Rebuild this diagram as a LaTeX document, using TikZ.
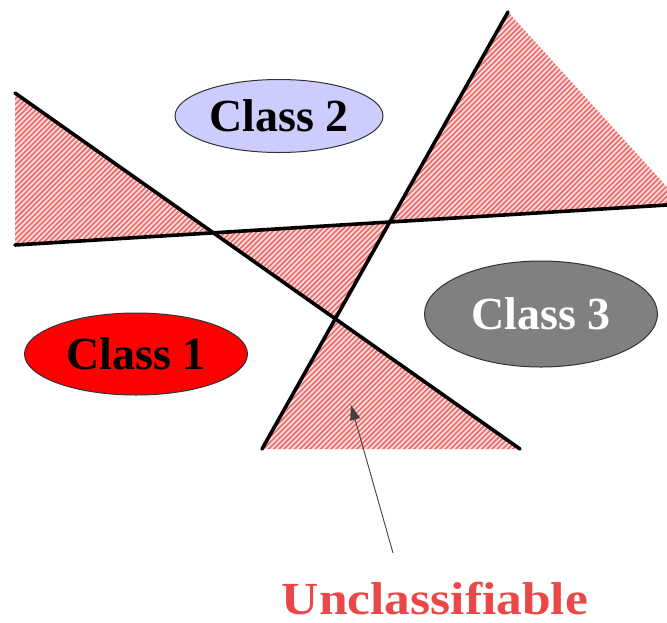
\documentclass[tikz,border=0pt]{standalone}
\usepackage{fontspec}
\setmainfont{Liberation Serif}
\usetikzlibrary{shapes.geometric,arrows.meta}
\definecolor{hatchred}{RGB}{238,112,112}
\definecolor{hatchbg}{RGB}{253,226,226}
\definecolor{lavender}{RGB}{204,204,255}
\definecolor{classgray}{RGB}{128,128,128}
\definecolor{unclred}{RGB}{234,72,72}
\tikzset{
  boundary/.style={line width=3.6pt, black, line cap=round},
  hatchline/.style={hatchred, line width=1.8pt},
  classbox/.style={ellipse, draw=black!80, line width=1pt, inner sep=0pt,
    font=\fontsize{46}{50}\selectfont\bfseries},
  pointer/.style={draw=black!75, line width=0.9pt, -{Triangle[length=15pt,width=10pt]}}
}
\begin{document}
\begin{tikzpicture}[x=1pt,y=-1pt]
\useasboundingbox (0,0) rectangle (667,622);
% line end points
\coordinate (a1) at (15,93);
\coordinate (a2) at (520,449);
\coordinate (b1) at (15,245);
\coordinate (b2) at (667,205);
\coordinate (c1) at (262,449);
\coordinate (c2) at (508,12);
\coordinate (tr) at (667,187);
\coordinate (ab) at (intersection of a1--a2 and b1--b2);
\coordinate (bc) at (intersection of b1--b2 and c1--c2);
\coordinate (ac) at (intersection of a1--a2 and c1--c2);
% hatched regions
\begin{scope}
  \clip (a1) -- (b1) -- (ab) -- cycle
        (c2) -- (tr) -- (b2) -- (bc) -- cycle
        (ab) -- (bc) -- (ac) -- cycle
        (ac) -- (c1) -- (a2) -- cycle;
  \fill[hatchbg] (0,0) rectangle (667,622);
  \foreach \c in {0,5.2,...,1320} \draw[hatchline] (\c,0) -- ({\c-660},660);
\end{scope}
% boundary lines
\draw[boundary] (a1) -- (a2);
\draw[boundary] (b1) -- (b2);
\draw[boundary] (c1) -- (c2);
% classes
\node[classbox, fill=lavender, minimum width=208pt, minimum height=73pt] (k2) at (279,116) {Class 2};
\node[classbox, fill=red, minimum width=223pt, minimum height=82pt] (k1) at (136,354) {Class 1};
\node[classbox, fill=classgray, text=white, minimum width=233pt, minimum height=106pt] (k3) at (541,314) {Class 3};
% unclassifiable label and arrow
\node[anchor=base, text=unclred, inner sep=0pt, font=\fontsize{46}{50}\selectfont\bfseries] (u) at (435,614) {\scalebox{1.12}[1]{Unclassifiable}};
\coordinate (ustart) at (393,553);
\coordinate (utip) at (351,405);
\draw[pointer] (ustart) -- (utip);
\end{tikzpicture}
\end{document}
